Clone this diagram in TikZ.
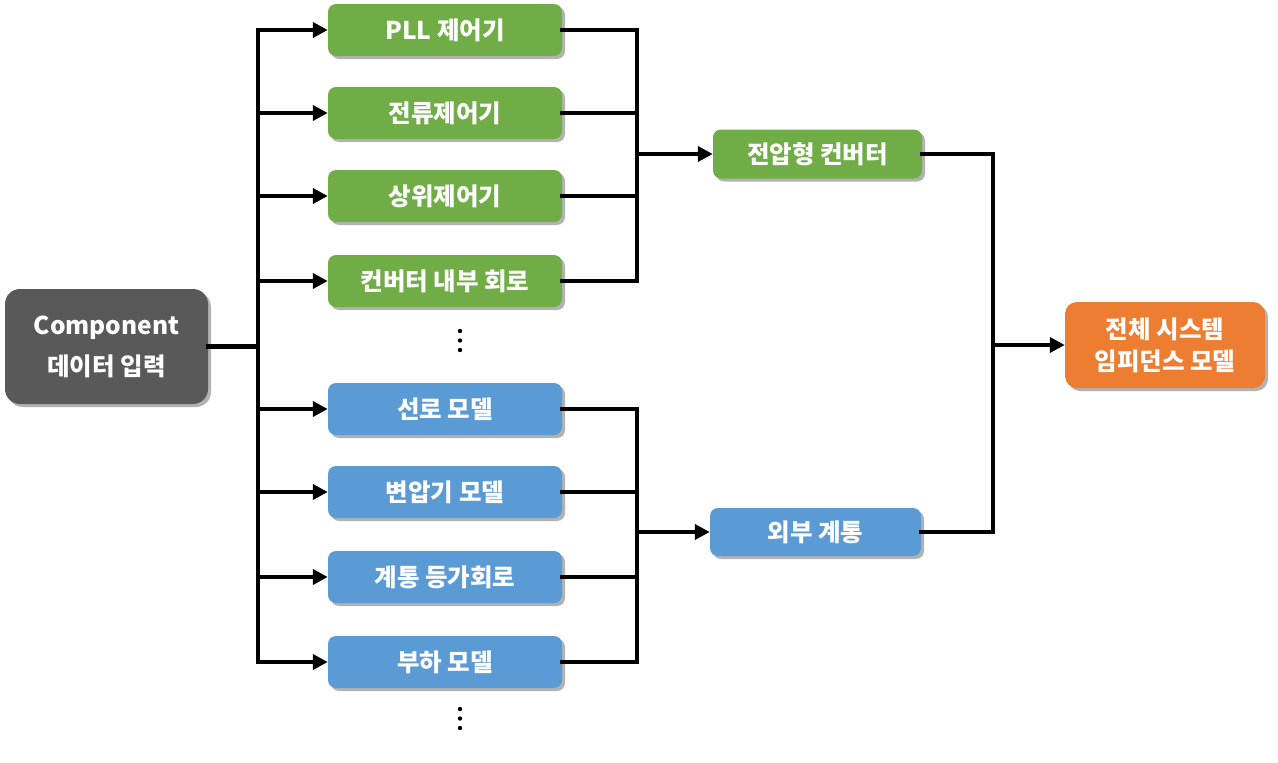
\documentclass[tikz,border=0pt]{standalone}
\usepackage{fontspec}
\setmainfont{Noto Sans CJK KR}
\usetikzlibrary{arrows.meta,shadows}
\definecolor{boxgray}{HTML}{595959}
\definecolor{boxgreen}{HTML}{70AD47}
\definecolor{boxblue}{HTML}{5B9BD5}
\definecolor{boxorange}{HTML}{ED7D31}
\begin{document}
\begin{tikzpicture}[x=1pt,y=-1pt,
		blk/.style={rounded corners=8pt, text=white, font=\fontsize{24.5}{30}\selectfont\bfseries, align=center, inner sep=0pt,
			drop shadow={shadow xshift=3pt, shadow yshift=-3pt, opacity=.3, fill=black}},
		gbox/.style={blk, fill=boxgreen, minimum width=234pt, minimum height=52pt},
		bbox/.style={blk, fill=boxblue, minimum width=234pt, minimum height=52pt},
		wire/.style={line width=4.5pt, line cap=rect},
		feed/.style={line width=4.5pt, -{Triangle[length=15pt,width=15pt]}}]
		\useasboundingbox (0,0) rectangle (1278,763);
		% Blocks
			\node [blk, fill=boxgray, rounded corners=15pt, minimum width=203pt, minimum height=115pt] (comp) at (106.5,346.5) {Component\\[11pt]데이터 입력};
			\node [gbox] (pll)  at (445,30)  {PLL 제어기};
			\node [gbox] (cur)  at (445,113) {전류제어기};
			\node [gbox] (sup)  at (445,196) {상위제어기};
			\node [gbox] (circ) at (445,281) {컨버터 내부 회로};
			\node [bbox] (line)  at (445,409) {선로 모델};
			\node [bbox] (trans) at (445,492) {변압기 모델};
			\node [bbox] (grid)  at (445,577) {계통 등가회로};
			\node [bbox] (load)  at (445,662) {부하 모델};
			\node [gbox, minimum width=209pt, minimum height=49pt] (vconv) at (817.5,154) {전압형 컨버터};
			\node [bbox, minimum width=211pt, minimum height=48pt] (ext) at (815.5,532) {외부 계통};
			\node [blk, fill=boxorange, rounded corners=12pt, minimum width=200pt, minimum height=86pt] (total) at (1165,345) {전체 시스템\\[2pt]임피던스 모델};
			
		% Dots
			\foreach \k in {0,1,2} {
				\fill (460,331+9.5*\k) circle (2.2pt);
				\fill (460,709+9.5*\k) circle (2.2pt);
			}
			
		% Wires
			\coordinate (busL) at (258,0);
			\coordinate (busG) at (637,0);
			\coordinate (busR) at (993,0);
			\draw [wire] (comp.east) -- (busL |- comp.east);
			\draw [wire] (busL |- pll.west) -- (busL |- load.west);
			\foreach \n in {pll,cur,sup,circ,line,trans,grid,load}
				\draw [feed] (busL |- \n.west) -- (\n.west);
			\foreach \n in {pll,cur,sup,circ,line,trans,grid,load}
				\draw [wire] (\n.east) -- (busG |- \n.east);
			\draw [wire] (busG |- pll.east) -- (busG |- circ.east);
			\draw [wire] (busG |- line.east) -- (busG |- load.east);
			\draw [feed] (busG |- vconv.west) -- (vconv.west);
			\draw [feed] (busG |- ext.west) -- (ext.west);
			\draw [wire] (vconv.east) -- (busR |- vconv.east) -- (busR |- ext.east) -- (ext.east);
			\draw [feed] (busR |- total.west) -- (total.west);
			
		\end{tikzpicture}
\end{document}
